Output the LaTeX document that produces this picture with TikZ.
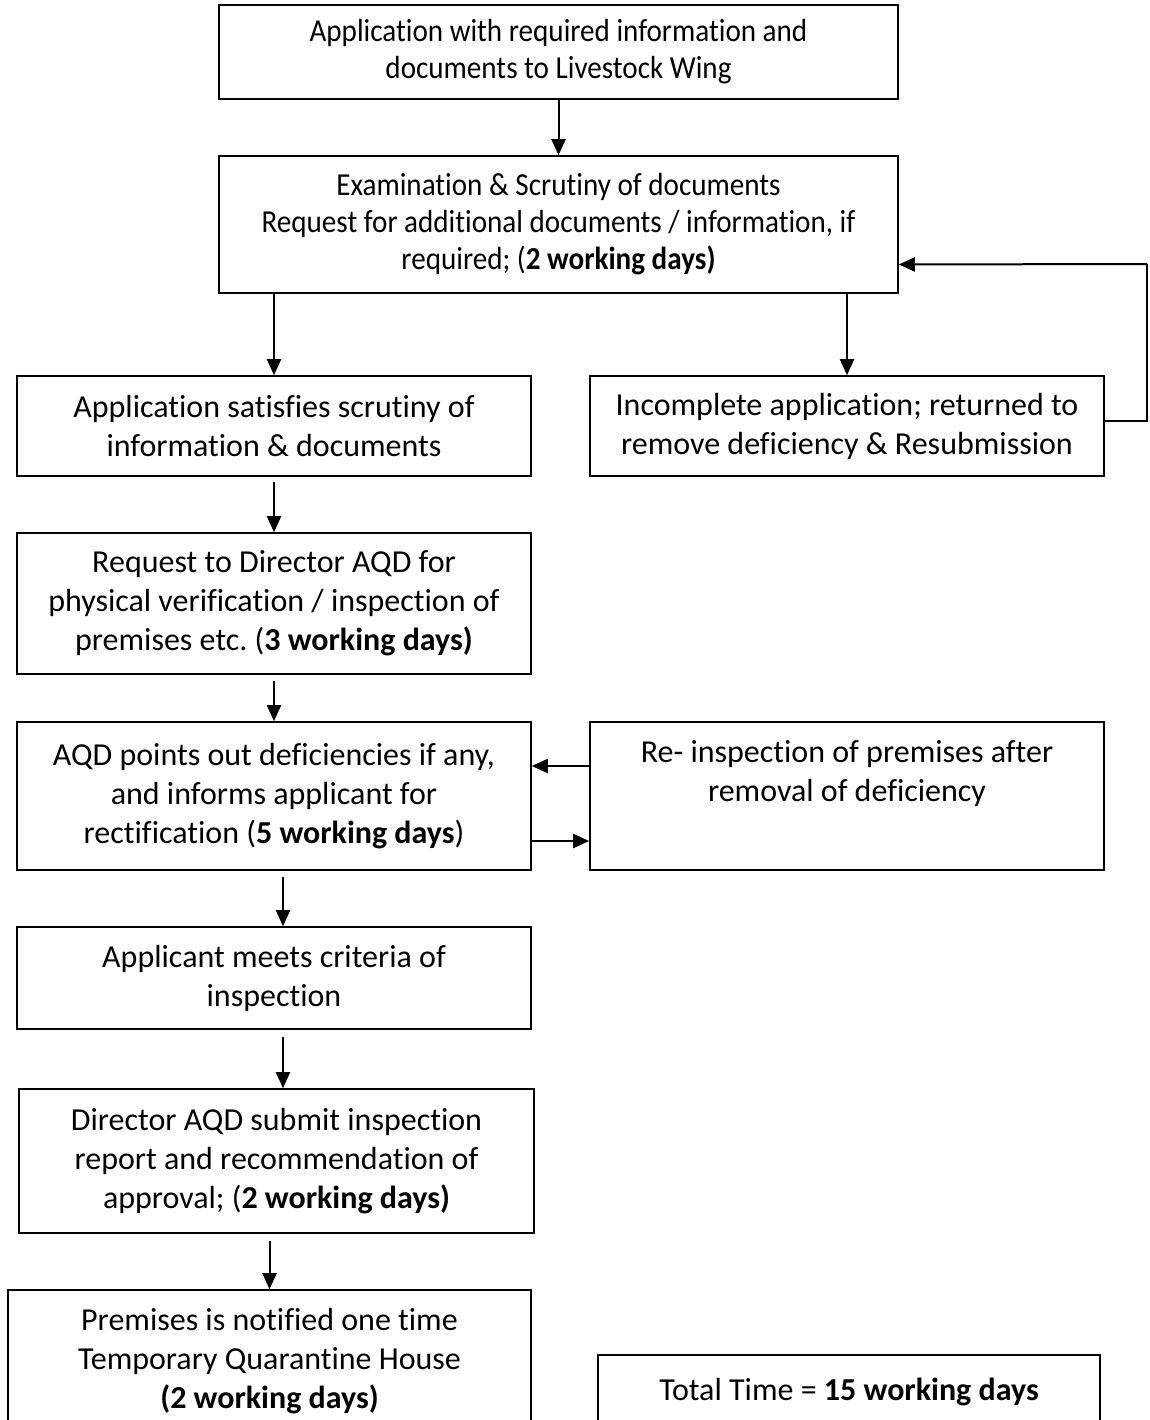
\documentclass[tikz,border=0pt]{standalone}
\usepackage{fontspec}
\setmainfont{Carlito}[RawFeature={-liga;-rlig;-clig;-dlig;-calt}]
\newfontfamily\narrowfont{Carlito}[FakeStretch=0.91,RawFeature={-liga;-rlig;-clig;-dlig;-calt}]
\usetikzlibrary{arrows.meta}
\usetikzlibrary{positioning}
\frenchspacing

\begin{document}
\begin{tikzpicture}[x=1pt,y=-1pt,
    box/.style={draw, line width=1.6pt, align=center, inner sep=0pt, font=\fontsize{32}{39}\selectfont},
    narrowbox/.style={box, font=\narrowfont\fontsize{32}{37}\selectfont},
    link/.style={line width=2pt, -{Triangle[length=16pt,width=14pt]}}]
    \clip (0,0) rectangle (1149,1420);
    % main column
    \node[narrowbox, minimum width=679pt, minimum height=94pt] (appl) at (558.5,52) {Application with required information and\\documents to Livestock Wing};
    \node[narrowbox, minimum width=679pt, minimum height=137pt] (exam) at (558.5,224.5) {Examination \& Scrutiny of documents\\Request for additional documents / information, if\\required; (\textbf{2 working days)}};
    \node[box, minimum width=514pt, minimum height=100pt] (sat) at (274,426) {Application satisfies scrutiny of\\information \& documents};
    \node[box, minimum width=514pt, minimum height=100pt] (inc) at (847,426) {Incomplete application; returned to\\remove deficiency \& Resubmission};
    \node[box, minimum width=514pt, minimum height=141pt] (req) at (274,603.5) {Request to Director AQD for\\physical verification / inspection of\\premises etc. (\textbf{3 working days)}};
    \node[box, minimum width=514pt, minimum height=148pt] (aqd) at (274,796) {AQD points out deficiencies if any,\\and informs applicant for\\rectification (\textbf{5 working days})};
    \node[box, minimum width=514pt, minimum height=148pt] (reinsp) at (847,796) {Re- inspection of premises after\\removal of deficiency\\\strut};
    \node[box, minimum width=514pt, minimum height=102pt] (meets) at (274,978) {Applicant meets criteria of\\inspection};
    \node[box, minimum width=515pt, minimum height=144pt] (dir) at (276.5,1161) {Director AQD submit inspection\\report and recommendation of\\approval; (\textbf{2 working days)}};
    \node[box, minimum width=523pt, minimum height=142pt] (prem) at (269.5,1361) {Premises is notified one time\\Temporary Quarantine House\\\textbf{(2 working days)}};
    \node[box, minimum width=502pt, minimum height=90pt] (total) at (849,1400) {\raisebox{22pt}{Total Time = \textbf{15 working days}}};
    \coordinate (loop) at (1147,264);

    % connectors
    \draw[link] (appl) -- (exam);
    \draw[link] (exam.south -| sat.north) -- (sat.north);
    \draw[link] (exam.south -| inc.north) -- (inc.north);
    \draw[line width=1.6pt] ([yshift=5pt]inc.east) -| (loop);
    \draw[link] (loop) -- ([yshift=-40pt]exam.east);
    \draw[link, shorten <=5pt] (sat) -- (req);
    \draw[link, shorten <=6pt] (req) -- (aqd);
    \draw[link] ([yshift=30pt]reinsp.west) -- ([yshift=30pt]aqd.east);
    \draw[link] ([yshift=-45pt]aqd.east) -- ([yshift=-45pt]reinsp.west);
    \draw[link, shorten <=6pt] ([xshift=9pt]aqd.south) -- ([xshift=9pt]meets.north);
    \draw[link, shorten <=7pt] ([xshift=9pt]meets.south) -- ([xshift=6.5pt]dir.north);
    \draw[link, shorten <=7pt] (dir.south -| prem.north) -- (prem.north);
\end{tikzpicture}
\end{document}
